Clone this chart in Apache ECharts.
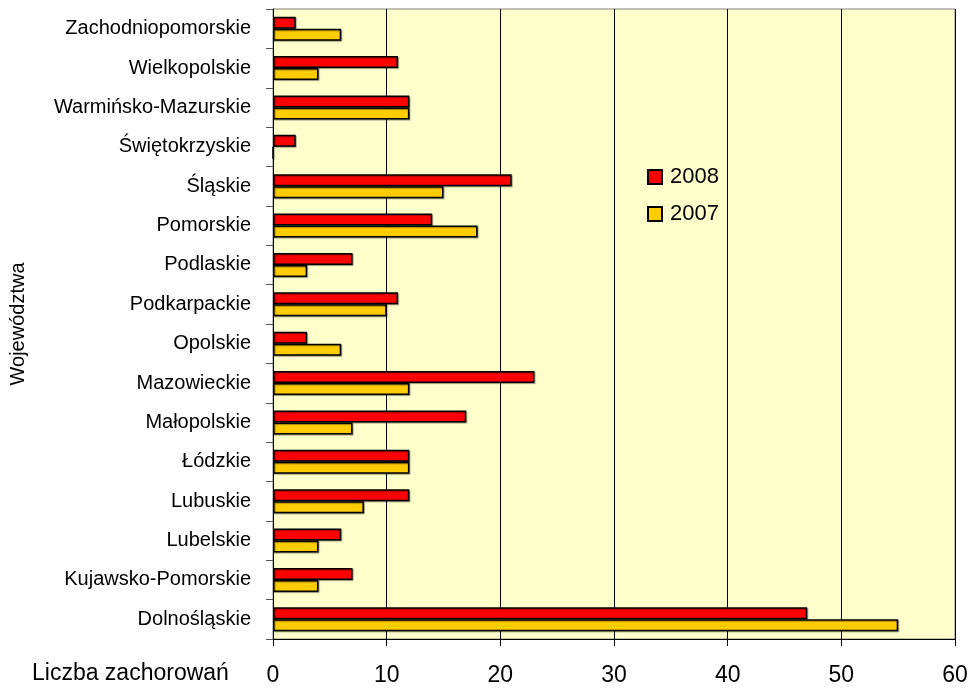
<!DOCTYPE html>
<html>
<head>
<meta charset="utf-8">
<script src="https://cdn.jsdelivr.net/npm/echarts@6/dist/echarts.min.js"></script>
<style>
  html, body { margin: 0; padding: 0; background: #fff; }
  #chart { width: 973px; height: 690px; }
</style>
</head>
<body>
<div id="chart"></div>
<script>
// województwa, od dołu do góry
var categories = [
  "Dolnośląskie", "Kujawsko-Pomorskie", "Lubelskie", "Lubuskie", "Łódzkie",
  "Małopolskie", "Mazowieckie", "Opolskie", "Podkarpackie", "Podlaskie",
  "Pomorskie", "Śląskie", "Świętokrzyskie", "Warmińsko-Mazurskie",
  "Wielkopolskie", "Zachodniopomorskie"
];
var values2008 = [47, 7, 6, 12, 12, 17, 23, 3, 11, 7, 14, 21, 2, 12, 11, 2];
var values2007 = [55, 4, 4, 8, 12, 7, 12, 6, 10, 3, 18, 15, 0, 12, 4, 6];
var xTicks = [0, 10, 20, 30, 40, 50, 60];

var font = "'Liberation Sans', Arial, sans-serif";
var myChart = echarts.init(document.getElementById("chart"));

var barStyle = function (color) {
  return {
    color: color,
    borderColor: "#000",
    borderWidth: 1.5,
    shadowColor: "rgba(0,0,0,0.35)",
    shadowOffsetX: 1,
    shadowOffsetY: 1,
    shadowBlur: 1
  };
};

var option = {
  animation: false,
  backgroundColor: "#fff",
  textStyle: { fontFamily: font },
  title: {
    text: "Liczba zachorowań",
    left: 32,
    top: 662,
    padding: 0,
    textStyle: { fontSize: 23, fontWeight: "normal", color: "#000", fontFamily: font }
  },
  grid: {
    left: 273,
    right: 18,
    top: 9,
    bottom: 51,
    outerBoundsMode: "none",
    containLabel: false,
    show: true,
    backgroundColor: "#FFFFCC",
    borderColor: "#808080",
    borderWidth: 1
  },
  legend: {
    orient: "vertical",
    left: 642,
    top: 160,
    padding: [6, 6, 6, 5],
    backgroundColor: "#FFFFCC",
    itemWidth: 14,
    itemHeight: 14,
    itemGap: 15,
    icon: "rect",
    textStyle: { fontSize: 22, color: "#000", fontFamily: font, padding: [0, 0, 0, 3] },
    data: ["2008", "2007"]
  },
  xAxis: {
    type: "value",
    min: xTicks[0],
    max: xTicks[xTicks.length - 1],
    interval: 10,
    axisLine: { show: true, lineStyle: { color: "#000", width: 1 } },
    axisTick: { show: true, length: 7, lineStyle: { color: "#000" } },
    axisLabel: { fontSize: 23, color: "#000", margin: 25 },
    splitLine: { show: true, lineStyle: { color: "#000", width: 1 } }
  },
  yAxis: {
    type: "category",
    data: categories,
    name: "Województwa",
    nameLocation: "middle",
    nameGap: 245,
    nameRotate: 90,
    nameTextStyle: { fontSize: 20, color: "#000" },
    axisLine: { show: true, lineStyle: { color: "#000", width: 1 } },
    axisTick: { show: true, length: 7, lineStyle: { color: "#555" } },
    axisLabel: { fontSize: 20, color: "#000", margin: 22 },
    splitLine: { show: false }
  },
  series: [
    {
      name: "2008",
      type: "bar",
      data: values2008,
      barWidth: 12,
      barGap: "0%",
      itemStyle: barStyle("#FF0000")
    },
    {
      name: "2007",
      type: "bar",
      data: values2007,
      barWidth: 12,
      barGap: "0%",
      itemStyle: barStyle("#FFCC00")
    }
  ]
};

myChart.setOption(option);
</script>
</body>
</html>
